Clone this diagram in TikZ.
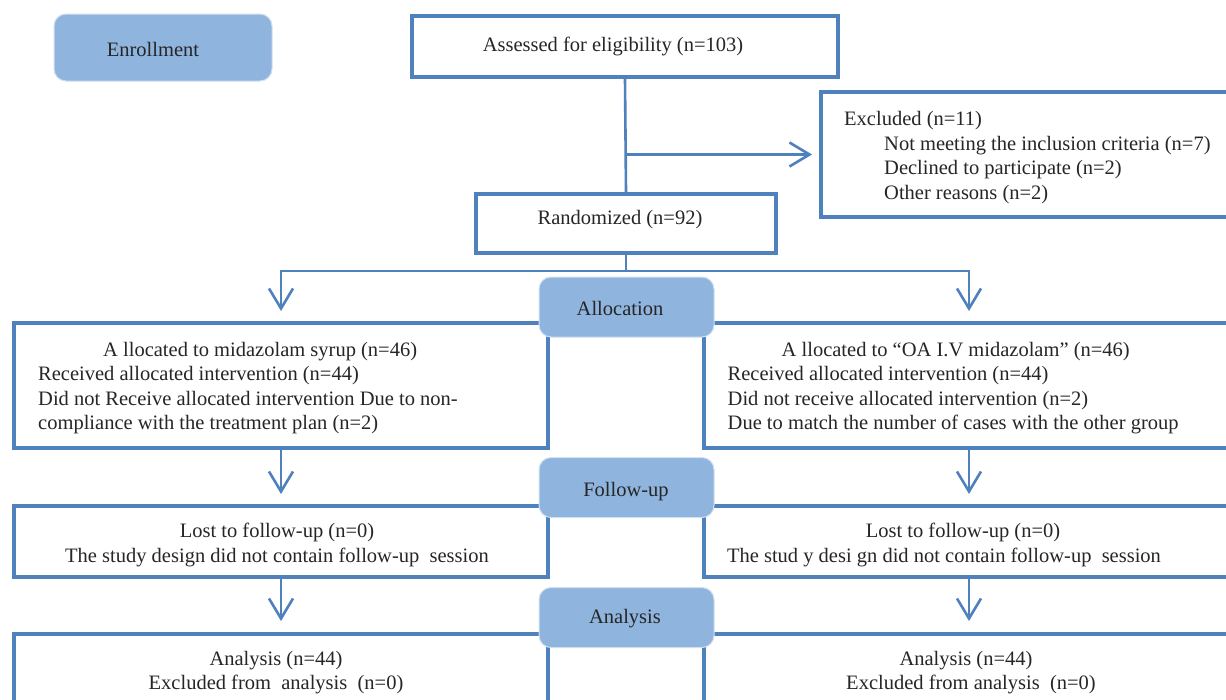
\documentclass[tikz,border=0pt]{standalone}
\usepackage{fontspec}
\setmainfont{Liberation Serif}
\usetikzlibrary{arrows.meta,calc}
\definecolor{frame}{HTML}{4F81BD}
\definecolor{labfill}{HTML}{8FB4DE}
\definecolor{ink}{HTML}{262626}
\newcommand\dfont{\fontsize{20.5}{24.5}\selectfont}
\begin{document}
\begin{tikzpicture}[x=1pt,y=-1pt,
  box/.style={draw=frame, line width=4pt, rectangle, inner sep=0pt, fill=white},
  lab/.style={fill=labfill, draw=labfill!40!white, line width=1pt, rounded corners=12pt, inner sep=0pt, minimum width=175pt, minimum height=60pt},
  conn/.style={draw=frame, line width=2.6pt},
  arr/.style={conn, -{Straight Barb[length=20pt,width=24pt,line width=2.6pt]}},
  txt/.style={text=ink, font=\dfont, inner sep=0pt, align=left},
  ctxt/.style={text=ink, font=\dfont, inner sep=0pt, align=center}
]
\useasboundingbox (0,0) rectangle (1226,699);
\clip (0,0) rectangle (1226,699);
\fill[white] (0,0) rectangle (1226,699);

% boxes
\node[box, minimum width=426pt, minimum height=61pt] (assess) at (625,46.5) {};
\node[box, minimum width=422pt, minimum height=125pt] (excl) at (1032,154.5) {};
\node[box, minimum width=300pt, minimum height=59pt] (rand) at (626,223.5) {};
\node[box, minimum width=534pt, minimum height=125pt] (allocL) at (281,385.5) {};
\node[box, minimum width=530pt, minimum height=125pt] (allocR) at (969,385.5) {};
\node[box, minimum width=534pt, minimum height=71pt] (fuL) at (281,541.5) {};
\node[box, minimum width=530pt, minimum height=71pt] (fuR) at (969,541.5) {};
\node[box, minimum width=534pt, minimum height=124pt] (anL) at (281,696) {};
\node[box, minimum width=530pt, minimum height=124pt] (anR) at (969,696) {};

% labels
\node[lab, minimum width=218pt, minimum height=67pt] (enr) at (163,47.5) {};
\node[lab] (alab) at (626.5,307) {};
\node[lab] (flab) at (626.5,487.5) {};
\node[lab] (anlab) at (626.5,617.5) {};

% connectors
\draw[conn] (assess.south) -- (rand.north);
\coordinate (br) at (assess.south |- excl.west);
\draw[arr, shorten >=7pt] (br) -- (excl.west);
\draw[conn] (rand.south) -- ++(0,16) coordinate (split);
\draw[arr, shorten >=10pt] (split) -| (allocL.north);
\draw[arr, shorten >=10pt] (split) -| (allocR.north);
\draw[arr, shorten >=10pt] (allocL.south) -- (fuL.north);
\draw[arr, shorten >=10pt] (allocR.south) -- (fuR.north);
\draw[arr, shorten >=11pt] (fuL.south) -- (anL.north);
\draw[arr, shorten >=11pt] (fuR.south) -- (anR.north);

% texts
\node[ctxt] (enrt) at (153,49) {Enrollment};
\node[ctxt] (assesst) at (613,46) {Assessed for eligibility (n=103)};
\node[txt, anchor=north west] (exclt) at (844,111.5) {Excluded (n=11)\\
\hspace*{40pt}Not meeting the inclusion criteria (n=7)\\
\hspace*{40pt}Declined to participate (n=2)\\
\hspace*{40pt}Other reasons (n=2)};
\node[ctxt] (randt) at (620,220) {Randomized (n=92)};
\node[ctxt] (alabt) at (620,308) {Allocation};
\node[ctxt] (flabt) at (626,492) {Follow-up};
\node[ctxt] (anlabt) at (625,619) {Analysis};
\node[txt, anchor=north west] (allocLt) at (38,342) {\hspace*{65pt}A llocated to midazolam syrup (n=46)\\
Received allocated intervention (n=44)\\
Did not Receive allocated intervention Due to non-\\
compliance with the treatment plan (n=2)};
\node[txt, anchor=north west] (allocRt) at (727.5,342) {\hspace*{54pt}A llocated to ``OA I.V midazolam'' (n=46)\\
Received allocated intervention (n=44)\\
Did not receive allocated intervention (n=2)\\
Due to match the number of cases with the other group};
\node[ctxt, anchor=north] (fuLt) at (277,523) {Lost to follow-up (n=0)\\
The study design did not contain follow-up~ session};
\node[ctxt, anchor=north] (fuRt) at (963,523) {Lost to follow-up (n=0)\\
The stud y desi gn did not contain follow-up~ session\hspace*{38pt}};
\node[ctxt, anchor=north] (anLt) at (276,651) {Analysis (n=44)\\
Excluded from~ analysis~ (n=0)};
\node[ctxt, anchor=north] (anRt) at (966,651) {Analysis (n=44)\\
\hspace*{10pt}Excluded from analysis~ (n=0)};
\end{tikzpicture}
\end{document}
